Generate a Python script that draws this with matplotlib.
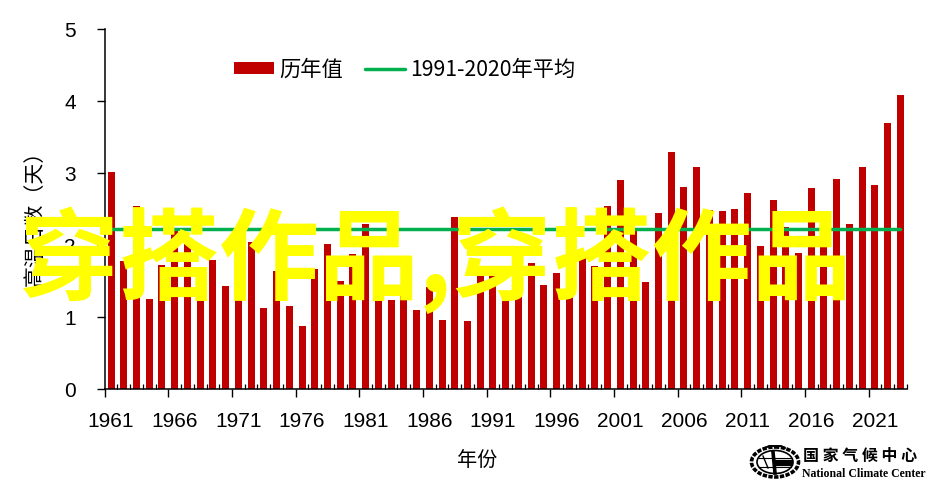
import numpy as np
from matplotlib import pyplot as plt
from matplotlib.patches import Ellipse
from matplotlib.ticker import FixedLocator, NullFormatter
from matplotlib.transforms import ScaledTranslation

WIDTH = 932
HEIGHT = 491
CJK = ['Noto Sans CJK SC', 'DejaVu Sans']

#Values (the ones behind the yellow text are estimates)
years = list(range(1961, 2024))
hot_days = [3.02, 1.78, 2.55, 1.25, 1.73, 2.22, 2.06, 1.67, 1.80, 1.43,
            1.90, 2.05, 1.13, 1.64, 1.16, 0.88, 1.67, 2.02, 1.50, 1.88,
            2.30, 1.60, 1.24, 1.30, 1.10, 1.42, 0.96, 2.39, 0.95, 1.60,
            1.69, 1.28, 1.30, 1.75, 1.45, 1.62, 1.30, 1.91, 1.71, 2.55,
            2.91, 2.20, 1.49, 2.45, 3.30, 2.81, 3.09, 2.49, 2.48, 2.50,
            2.73, 1.99, 2.63, 2.25, 1.90, 2.80, 2.48, 2.92, 2.30, 3.09,
            2.84, 3.70, 4.09]
normal_value = 2.23
y_ticks = [0, 1, 2, 3, 4, 5]
label_years = list(range(1961, 2024, 5))

series_label = '历年值'
normal_label = '1991-2020年平均'
x_title = '年份'
y_title = '高温日数（天）'
overlay_text = '穿搭作品,穿搭作品'
logo_cn = '国家气候中心'
logo_en = 'National Climate Center'


#Pixel position in the reference to figure fraction
def px(x, y):
	return x / WIDTH, 1 - y / HEIGHT


#Boundaries between years get the ticks, the labels are moved over to the bar centre
def style_axes(ax):
	pos = np.arange(len(years))
	ax.set_xlim(-0.5, len(years) - 0.5)
	ax.set_ylim(0, 5)
	ax.set_yticks(y_ticks)
	ax.set_xticks([years.index(y) - 0.5 for y in label_years])
	ax.set_xticklabels([str(y) for y in label_years])
	ax.xaxis.set_minor_locator(FixedLocator(list(pos - 0.5) + [pos[-1] + 0.5]))
	ax.xaxis.set_minor_formatter(NullFormatter())
	ax.tick_params(axis='both', which='major', direction='out', length=5.8, width=1.0,
		labelsize=15)
	ax.tick_params(axis='x', which='major', pad=10.5)
	ax.tick_params(axis='y', which='major', pad=15)
	ax.tick_params(axis='x', which='minor', direction='in', length=3.4, width=0.9)
	shift = ScaledTranslation(6.4 / 100, 0, ax.figure.dpi_scale_trans)
	for label in ax.get_xticklabels():
		label.set_transform(label.get_transform() + shift)
	for side in ['top', 'right']:
		ax.spines[side].set_visible(False)
	for side in ['left', 'bottom']:
		ax.spines[side].set_linewidth(1.1)


#Small drawn copy of the centre's emblem and its name
def draw_logo(fig):
	box = fig.add_axes([748 / WIDTH, 1 - 482 / HEIGHT, 54 / WIDTH, 38 / HEIGHT])
	box.set_xlim(748, 802)
	box.set_ylim(482, 444)
	box.axis('off')
	box.add_patch(Ellipse((775, 462), 47, 30, fill=False, ec='black', lw=2.6, ls=(0, (1.2, 0.4))))
	box.add_patch(Ellipse((775, 462), 36, 23, fill=False, ec='black', lw=1.2))
	box.plot([759, 791], [458, 458], color='black', lw=0.8)
	box.plot([759, 791], [467, 467], color='black', lw=0.8)
	box.plot([773, 775], [452, 473], color='black', lw=2.6)
	box.plot([778, 790], [463, 463], color='black', lw=4.5)
	box.plot([763, 768], [456, 468], color='black', lw=1.0)
	box.plot([765, 769, 781, 785], [448, 446, 446, 448], color='black', lw=1.4)
	fig.text(*px(860.5, 456), ' '.join(logo_cn), family=CJK, fontsize=11.5, weight='bold',
		ha='center', va='center', color='black')
	fig.text(*px(864, 474), logo_en, family='Liberation Serif', fontsize=8.5, weight='bold',
		ha='center', va='center', color='black')


def main():
	plt.rcParams['font.family'] = ['Liberation Sans', 'Noto Sans CJK SC', 'DejaVu Sans']
	fig = plt.figure(figsize=(WIDTH / 100, HEIGHT / 100), dpi=100)
	left, bottom = px(104.7, 389.3)
	ax = fig.add_axes([left, bottom, 802 / WIDTH, 360 / HEIGHT])

	pos = np.arange(len(years))
	bars = ax.bar(pos, hot_days, width=0.55, color='#C00000', label=series_label)
	line, = ax.plot(pos, [normal_value] * len(years), color='#00B050', lw=2.5,
		solid_capstyle='round', label=normal_label)
	style_axes(ax)

	ax.legend(handles=[bars, line], ncol=2, frameon=False, loc='center left',
		bbox_to_anchor=(0.161, 0.887), prop={'family': CJK, 'size': 15.3},
		handlelength=1.88, handleheight=0.5, handletextpad=0.25, columnspacing=1.05,
		borderpad=0, borderaxespad=0)

	fig.text(*px(477, 460), x_title, family=CJK, fontsize=14.5, ha='center', va='center')
	fig.text(*px(36, 213), y_title, family=CJK, fontsize=15, rotation=90,
		ha='center', va='center')

	draw_logo(fig)

	fig.text(*px(435, 260), overlay_text, family=CJK, fontsize=72, weight='bold',
		color='#FFFF00', ha='center', va='center', zorder=10)

	fig.savefig('out.png', dpi=100)


if __name__ == "__main__":
	main()
